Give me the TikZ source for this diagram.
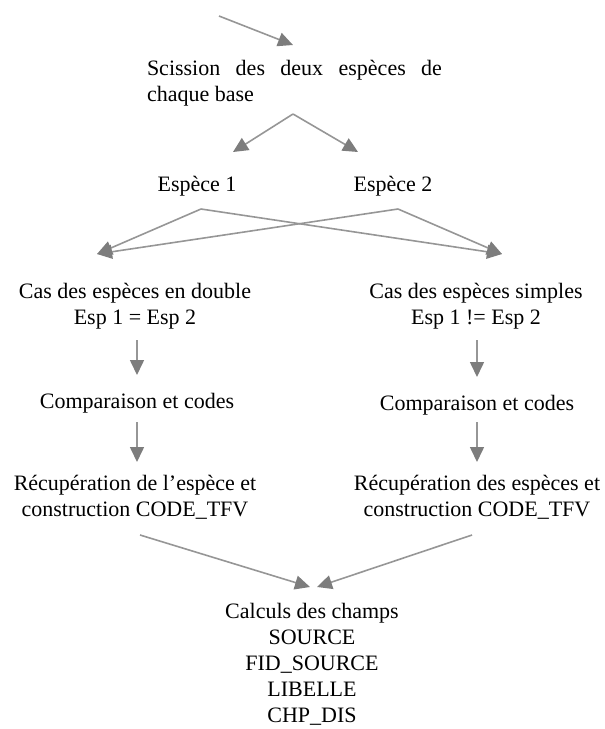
\documentclass[tikz,border=0pt]{standalone}
\usepackage{fontspec}
\setmainfont{Liberation Serif}
\usetikzlibrary{arrows.meta,positioning,calc}
\definecolor{flowgray}{RGB}{150,150,150}
\definecolor{tipgray}{RGB}{125,125,125}

\begin{document}
\begin{tikzpicture}[
    x=0.5pt, y=-0.5pt,
    stage/.style={inner sep=0pt, align=center, font=\fontsize{11}{13}\selectfont},
    flow/.style={-{Triangle[length=7.5pt, width=7pt, color=tipgray]}, draw=flowgray, line width=0.8pt}
  ]
  \useasboundingbox (0,0) rectangle (605,729);
  \node[stage, text width=147.5pt, align=justify,
    font={\fontsize{11}{13}\selectfont\tolerance=10000\hyphenpenalty=10000}]
    (scission) at (294.5,83.5) {Scission des deux espèces de chaque base};
  \node[stage] (esp1) at (197,186) {Espèce 1};
  \node[stage] (esp2) at (393,186) {Espèce 2};
  \node[stage] (double) at (135,306) {Cas des espèces en double\\Esp 1 = Esp 2};
  \node[stage] (simple) at (476,306) {Cas des espèces simples\\Esp 1 != Esp 2};
  \node[stage] (cmp_double) at (137,403) {Comparaison et codes};
  \node[stage] (cmp_simple) at (477,405) {Comparaison et codes};
  \node[stage] (rec_double) at (135,497) {Récupération de l’espèce et\\construction CODE\_TFV};
  \node[stage] (rec_simple) at (477,497) {Récupération des espèces et\\construction CODE\_TFV};
  \node[stage] (champs) at (312,664.5) {Calculs des champs\\SOURCE\\FID\_SOURCE\\LIBELLE\\CHP\_DIS};
  \coordinate (prev) at (219,16);
  \coordinate (into_scission) at (293,45);
  \coordinate (split) at (293,114);
  \coordinate (to_esp1) at (233,152);
  \coordinate (to_esp2) at (358,152);
  \coordinate (from_esp1) at (201,209);
  \coordinate (from_esp2) at (398,209);
  \coordinate (to_double) at (97,254);
  \coordinate (to_simple) at (502,254);
  \coordinate (from_rec_double) at (140,535);
  \coordinate (from_rec_simple) at (472,535);
  \coordinate (into_champs_l) at (310,587);
  \coordinate (into_champs_r) at (317,587);
  \draw[flow] (prev) -- (into_scission);
  \draw[flow] (split) -- (to_esp1);
  \draw[flow] (split) -- (to_esp2);
  \draw[flow] (from_esp1) -- (to_double);
  \draw[flow] (from_esp1) -- (to_simple);
  \draw[flow] (from_esp2) -- (to_double);
  \draw[flow] (from_esp2) -- (to_simple);
  \draw[flow] (137,340) -- (137,375);
  \draw[flow] (137,422) -- (137,462);
  \draw[flow] (477,340) -- (477,377);
  \draw[flow] (477,422) -- (477,462);
  \draw[flow] (from_rec_double) -- (into_champs_l);
  \draw[flow] (from_rec_simple) -- (into_champs_r);
\end{tikzpicture}
\end{document}
